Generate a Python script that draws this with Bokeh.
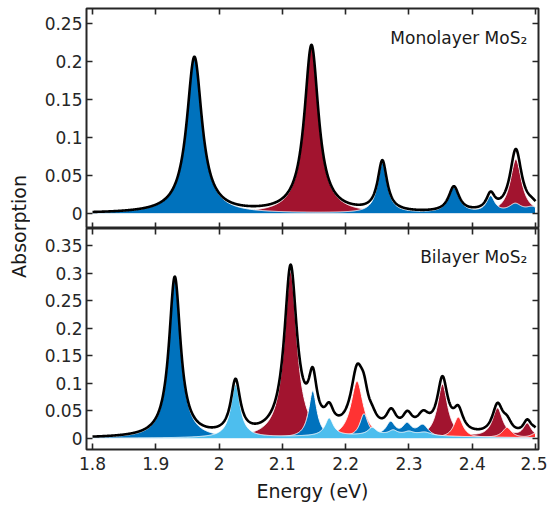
import numpy as np
from bokeh.plotting import figure
from bokeh.layouts import row, column
from bokeh.models import Range1d, FixedTicker, LinearAxis
from bokeh.core.properties import value
from bokeh.embed import file_html
from bokeh.resources import INLINE

# ---------------- data (peak parameters) ----------------
# each peak: centre (eV), height (absorption), half width (eV)
mono_blue_centres = [1.961, 2.258, 2.371, 2.429, 2.468, 2.495]
mono_blue_heights = [0.205, 0.066, 0.033, 0.021, 0.011, 0.007]
mono_blue_widths = [0.0145, 0.009, 0.010, 0.008, 0.012, 0.012]
mono_crimson_centres = [2.146, 2.469]
mono_crimson_heights = [0.220, 0.071]
mono_crimson_widths = [0.0135, 0.011]

bi_blue_centres = [1.930, 2.148, 2.229, 2.271, 2.297, 2.322]
bi_blue_heights = [0.290, 0.085, 0.042, 0.026, 0.022, 0.022]
bi_blue_widths = [0.011, 0.008, 0.008, 0.009, 0.009, 0.011]
bi_lightblue_centres = [2.026, 2.174, 2.242, 2.275, 2.300, 2.325, 2.250]
bi_lightblue_heights = [0.096, 0.032, 0.013, 0.008, 0.006, 0.006, 0.006]
bi_lightblue_widths = [0.009, 0.008, 0.008, 0.008, 0.009, 0.012, 0.150]
bi_crimson_centres = [2.113, 2.353, 2.440, 2.487]
bi_crimson_heights = [0.303, 0.097, 0.053, 0.025]
bi_crimson_widths = [0.012, 0.010, 0.010, 0.008]
bi_red_centres = [2.218, 2.378, 2.455, 2.499]
bi_red_heights = [0.104, 0.038, 0.019, 0.008]
bi_red_widths = [0.012, 0.009, 0.009, 0.008]

x_ticks = [1.8, 1.9, 2.0, 2.1, 2.2, 2.3, 2.4, 2.5]
x_tick_labels = ["1.8", "1.9", "2", "2.1", "2.2", "2.3", "2.4", "2.5"]
mono_y_ticks = [0, 0.05, 0.1, 0.15, 0.2, 0.25]
mono_y_tick_labels = ["0", "0.05", "0.1", "0.15", "0.2", "0.25"]
bi_y_ticks = [0, 0.05, 0.1, 0.15, 0.2, 0.25, 0.3, 0.35]
bi_y_tick_labels = ["0", "0.05", "0.1", "0.15", "0.2", "0.25", "0.3", "0.35"]

energy = np.linspace(1.8, 2.5, 1401)


def peaks(centres, heights, widths):
    total = np.zeros_like(energy)
    for c, h, w in zip(centres, heights, widths):
        total += h * w ** 2 / ((energy - c) ** 2 + w ** 2)
    return total


FONT = "DejaVu Sans"
FRAME = "#262626"
DARKBLUE = "#0072BD"
LIGHTBLUE = "#4DBEEE"
CRIMSON = "#A2142F"
RED = "#FF3333"


def add_axis(p, place, ticks, labels, show_labels, standoff=4, label=None):
    ax = LinearAxis(ticker=FixedTicker(ticks=ticks))
    ax.axis_line_color = None
    ax.major_tick_in = 6
    ax.major_tick_out = 0
    ax.major_tick_line_color = FRAME
    ax.major_tick_line_width = 1.6
    ax.minor_tick_line_color = None
    ax.major_label_text_font = FONT
    if show_labels:
        ax.major_label_overrides = {t: l for t, l in zip(ticks, labels)}
        ax.major_label_text_color = "#262626"
        ax.major_label_text_font_size = "17px"
        ax.major_label_standoff = standoff
    else:
        # mirrored tick marks only: labels are not drawn at all
        ax.major_label_text_color = None
        ax.major_label_text_font_size = "1px"
        ax.major_label_standoff = 0
    if label:
        ax.axis_label = label
        ax.axis_label_text_font = FONT
        ax.axis_label_text_font_size = "19px"
        ax.axis_label_text_font_style = "normal"
        ax.axis_label_text_color = "#1a1a1a"
        ax.axis_label_standoff = 7
    p.add_layout(ax, place)


def panel(height, ymin, ymax, yticks, ylabels, bottom_labels, btop, bbottom):
    p = figure(width=517, height=height,
               x_range=Range1d(1.7905, 2.5047), y_range=Range1d(ymin, ymax),
               output_backend="svg", toolbar_location=None,
               x_axis_location=None, y_axis_location=None,
               min_border_left=56, min_border_right=9,
               min_border_top=btop, min_border_bottom=bbottom)
    p.grid.visible = False
    p.outline_line_color = FRAME
    p.outline_line_width = 2
    p.background_fill_color = "white"
    p.border_fill_color = "white"
    add_axis(p, "left", yticks, ylabels, True, standoff=4)
    add_axis(p, "right", yticks, ylabels, False)
    add_axis(p, "above", x_ticks, x_tick_labels, False)
    if bottom_labels:
        add_axis(p, "below", x_ticks, x_tick_labels, True, standoff=7, label="Energy (eV)")
    else:
        add_axis(p, "below", x_ticks, x_tick_labels, False)
    return p


def fill(p, curve, color):
    xs = np.concatenate([energy, energy[::-1]])
    ys = np.concatenate([curve, np.zeros_like(curve)])
    p.patch(xs, ys, fill_color=color, line_color="white", line_width=1)


# ---------------- monolayer ----------------
top = panel(228, -0.0197, 0.2697, mono_y_ticks, mono_y_tick_labels, False, 8, 0)
m_blue = peaks(mono_blue_centres, mono_blue_heights, mono_blue_widths)
m_crim = peaks(mono_crimson_centres, mono_crimson_heights, mono_crimson_widths)
fill(top, m_crim, CRIMSON)
fill(top, m_blue, DARKBLUE)
top.line(energy, m_blue + m_crim, line_color="black", line_width=2.6, line_join="round")
top.text(x=[2.487], y=[0.2305], text=["Monolayer MoS₂"], text_align="right",
         text_baseline="alphabetic", text_font=value(FONT), text_font_size="17px",
         text_color="#1a1a1a")

# ---------------- bilayer ----------------
bot = panel(280, -0.0199, 0.3808, bi_y_ticks, bi_y_tick_labels, True, 0, 59)
b_blue = peaks(bi_blue_centres, bi_blue_heights, bi_blue_widths)
b_light = peaks(bi_lightblue_centres, bi_lightblue_heights, bi_lightblue_widths)
b_crim = peaks(bi_crimson_centres, bi_crimson_heights, bi_crimson_widths)
b_red = peaks(bi_red_centres, bi_red_heights, bi_red_widths)
fill(bot, b_crim, CRIMSON)
fill(bot, b_red, RED)
fill(bot, b_blue, DARKBLUE)
fill(bot, b_light, LIGHTBLUE)
bot.line(energy, b_blue + b_light + b_crim + b_red, line_color="black", line_width=2.6,
         line_join="round")
bot.text(x=[2.487], y=[0.330], text=["Bilayer MoS₂"], text_align="right",
         text_baseline="alphabetic", text_font=value(FONT), text_font_size="17px",
         text_color="#1a1a1a")

# ---------------- shared y label ----------------
lab = figure(width=30, height=508, x_range=Range1d(0, 30), y_range=Range1d(0, 508),
             output_backend="svg", toolbar_location=None,
             x_axis_location=None, y_axis_location=None, min_border=0)
lab.grid.visible = False
lab.outline_line_color = None
lab.text(x=[18], y=[508 - 226], text=["Absorption"], angle=np.pi / 2,
         text_align="center", text_baseline="middle", text_font=value(FONT),
         text_font_size="19px", text_color="#1a1a1a")

layout = row(lab, column(top, bot))
open("out.html", "w").write(file_html(layout, INLINE))
